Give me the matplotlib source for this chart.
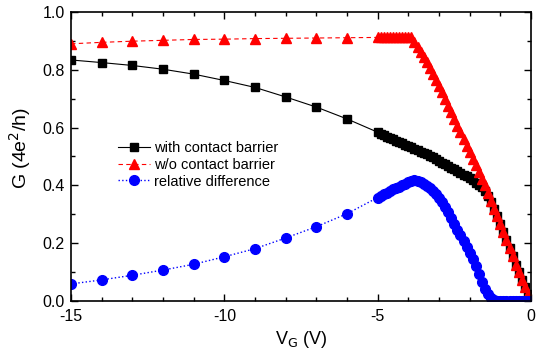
import matplotlib
matplotlib.use("Agg")
import matplotlib.pyplot as plt
import numpy as np
from matplotlib.ticker import MultipleLocator, FormatStrFormatter

plt.rcParams["font.family"] = ["Liberation Sans", "DejaVu Sans"]
plt.rcParams["axes.unicode_minus"] = False

# gate voltage: 1 V steps up to -6, then 0.1 V steps from -5 to 0
vg_coarse = [-15, -14, -13, -12, -11, -10, -9, -8, -7, -6]
vg_fine = [round(-5.0 + 0.1 * i, 1) for i in range(51)]

g_with_coarse = [0.834, 0.825, 0.815, 0.802, 0.785, 0.763, 0.739, 0.706, 0.671, 0.630]
g_with_fine = [
    0.584, 0.579, 0.574, 0.569, 0.564, 0.560, 0.555, 0.550, 0.545, 0.540,
    0.536, 0.532, 0.527, 0.522, 0.517, 0.512, 0.507, 0.502, 0.497, 0.491,
    0.485, 0.479, 0.473, 0.467, 0.461, 0.455, 0.449, 0.443, 0.437, 0.431,
    0.424, 0.417, 0.410, 0.402, 0.393, 0.382, 0.365, 0.344, 0.319, 0.293,
    0.266, 0.238, 0.210, 0.182, 0.154, 0.126, 0.100, 0.074, 0.049, 0.024,
    0.000,
]

g_without_coarse = [0.890, 0.895, 0.899, 0.902, 0.905, 0.906, 0.908, 0.909, 0.910, 0.911]
g_without_fine = [
    0.912, 0.912, 0.912, 0.912, 0.912, 0.912, 0.912, 0.912, 0.912, 0.912,
    0.912, 0.912, 0.895, 0.878, 0.862, 0.845, 0.826, 0.806, 0.786, 0.765,
    0.745, 0.722, 0.699, 0.676, 0.653, 0.630, 0.607, 0.584, 0.561, 0.538,
    0.515, 0.492, 0.469, 0.446, 0.423, 0.400, 0.374, 0.347, 0.320, 0.293,
    0.266, 0.238, 0.210, 0.182, 0.154, 0.126, 0.100, 0.074, 0.049, 0.024,
    0.000,
]

rel_diff_coarse = [0.059, 0.073, 0.089, 0.107, 0.127, 0.153, 0.181, 0.218, 0.257, 0.302]
rel_diff_fine = [
    0.358, 0.364, 0.369, 0.375, 0.380, 0.386, 0.391, 0.396, 0.401, 0.406,
    0.411, 0.415, 0.418, 0.416, 0.412, 0.406, 0.399, 0.390, 0.380, 0.369,
    0.357, 0.343, 0.326, 0.307, 0.287, 0.266, 0.246, 0.227, 0.207, 0.187,
    0.166, 0.146, 0.121, 0.094, 0.066, 0.042, 0.024, 0.010, 0.002, 0.000,
    0.000, 0.000, 0.000, 0.000, 0.000, 0.000, 0.000, 0.000, 0.000, 0.000,
    0.000,
]

vg = np.array(vg_coarse + vg_fine)
g_with = np.array(g_with_coarse + g_with_fine)
g_without = np.array(g_without_coarse + g_without_fine)
rel_diff = np.array(rel_diff_coarse + rel_diff_fine)

fig = plt.figure(figsize=(5.36, 3.51), dpi=100)
ax = fig.add_axes([0.1325, 0.1425, 0.8582, 0.8233])

ax.plot(vg, g_with, "-", color="black", lw=0.8, marker="s", ms=6,
        label="with contact barrier")
ax.plot(vg, g_without, "--", color="red", lw=0.8, marker="^", ms=7.5,
        dashes=(4, 3), label="w/o contact barrier")
ax.plot(vg, rel_diff, ":", color="blue", lw=1.0, marker="o", ms=7,
        label="relative difference")

ax.set_xlim(-15, 0)
ax.set_ylim(0, 1.0)
ax.xaxis.set_major_locator(MultipleLocator(5))
ax.xaxis.set_minor_locator(MultipleLocator(1))
ax.yaxis.set_major_locator(MultipleLocator(0.2))
ax.yaxis.set_minor_locator(MultipleLocator(0.1))
ax.yaxis.set_major_formatter(FormatStrFormatter("%.1f"))
ax.tick_params(which="both", direction="in", top=True, right=True, width=1)
ax.tick_params(which="major", length=5, labelsize=11.5)
ax.tick_params(which="minor", length=3)
ax.tick_params(axis="x", which="major", pad=5.5)
ax.tick_params(axis="y", which="major", pad=4.5)
for s in ax.spines.values():
    s.set_linewidth(1.2)

ax.set_xlabel("V$_\\mathrm{G}$ (V)", fontsize=13)
ax.set_ylabel("G (4e$^2$/h)", fontsize=14)
ax.yaxis.set_label_coords(-0.083, 0.53)

ax.legend(loc="upper left", bbox_to_anchor=(0.08, 0.59), frameon=False,
          fontsize=10.5, handlelength=2.2, handletextpad=0.3,
          labelspacing=0.2, borderpad=0.2)

fig.savefig("out.png", dpi=100)
